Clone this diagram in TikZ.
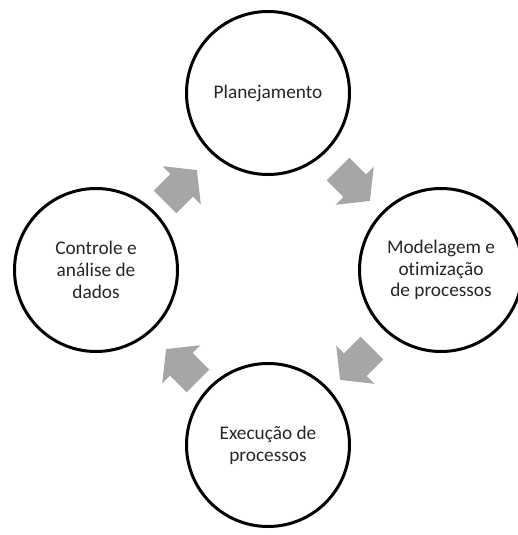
\documentclass[tikz,border=0pt]{standalone}
\usepackage{fontspec}
\setmainfont{Carlito}[Ligatures={NoCommon,NoRare}]
\begin{document}
\begin{tikzpicture}[x=1pt,y=-1pt,
  stage/.style={circle, draw=black, line width=3pt, minimum size=163pt,
    inner sep=0pt, align=center, text=black!85,
    font=\fontsize{19.3}{21.7}\selectfont},
  blockarrow/.style={fill=black!35, draw=none}]
\useasboundingbox (0,0) rectangle (518,535);

% the four stages of the cycle
\node[stage] (plan) at (268,93)  {Planejamento};
\node[stage] (model) at (441,270) {Modelagem e\\otimização\\de processos};
\node[stage] (exec) at (268,445) {Execução de\\processos};
\node[stage] (ctrl) at (96,270)  {Controle e\\análise de\\dados};

% anchor points for the block arrows between the stages
\coordinate (a1) at (181,186);
\coordinate (a2) at (354,185);
\coordinate (a3) at (356,364);
\coordinate (a4) at (182,365);

\foreach \c/\ang in {a1/45, a2/-45, a3/-135, a4/135}{
  \fill[blockarrow, shift={(\c)}, rotate=\ang]
    (-22.5,-16) -- (1,-16) -- (1,-27) -- (22.5,0) -- (1,27) -- (1,16)
    -- (-22.5,16) -- cycle;
}
\end{tikzpicture}
\end{document}
